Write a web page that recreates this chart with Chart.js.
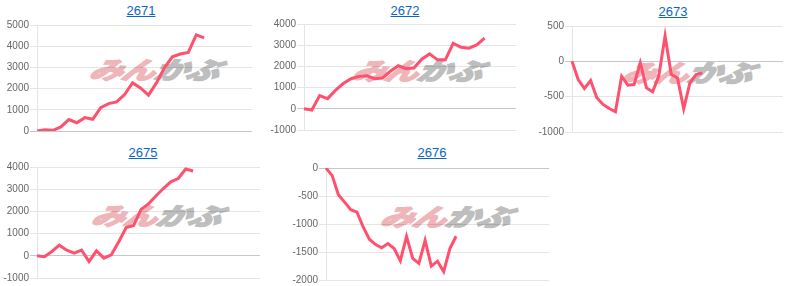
<!DOCTYPE html>
<html>
<head>
<meta charset="utf-8">
<script src="https://cdn.jsdelivr.net/npm/chart.js@4/dist/chart.umd.min.js"></script>
<style>
  html, body { margin: 0; padding: 0; background: #fff; }
  body { width: 800px; height: 286px; position: relative; overflow: hidden; font-family: "Liberation Sans", Arial, sans-serif; }
  .box { position: absolute; }
  .title { position: absolute; width: 100px; text-align: center; font-size: 13px; line-height: 15px; }
  .title a { color: #0b66c3; text-decoration: underline; }
  .wm { position: absolute; width: 160px; height: 30px; line-height: 30px; text-align: center; white-space: nowrap;
        font-family: "Noto Sans CJK JP", sans-serif; font-weight: 900; font-size: 24px; font-style: italic;
        transform: skewX(-16deg) scaleX(1.4); transform-origin: center center; letter-spacing: -1px; }
  .wm .p { color: #efb6ba; -webkit-text-stroke: 1.2px #efb6ba; }
  .wm .g { color: #bebebe; -webkit-text-stroke: 1.2px #bebebe; }
</style>
</head>
<body>
<script>
// ---- data ----
const categories = ['1','2','3','4','5','6','7','8','9','10','11','12','13','14','15','16','17','18','19','20',
  '21','22','23','24','25','26','27','28','29','30','31','32','33','34','35','36','37'];
const codes = ['2671', '2672', '2673', '2675', '2676'];
const categoryCounts = [28, 28, 35, 31, 37];

const values2671 = [0, 60, 30, 190, 540, 390, 630, 550, 1100, 1290, 1370, 1720, 2270, 2030, 1690, 2270, 2980, 3500, 3630, 3710, 4530, 4390];
const values2672 = [0, -60, 620, 480, 870, 1190, 1420, 1530, 1560, 1420, 1450, 1770, 2030, 1890, 1920, 2340, 2590, 2310, 2310, 3090, 2900, 2860, 3010, 3330];
const values2673 = [0, -258, -385, -272, -516, -610, -667, -714, -211, -338, -329, -20, -376, -432, -202, 360, -188, -235, -671, -305, -188, -164];
const values2675 = [0, -45, 195, 480, 255, 120, 255, -255, 225, -105, 45, 630, 1270, 1370, 2090, 2340, 2690, 3030, 3330, 3480, 3910, 3820];
const values2676 = [0, -136, -479, -609, -746, -787, -1053, -1272, -1367, -1426, -1349, -1438, -1657, -1219, -1615, -1704, -1290, -1751, -1663, -1852, -1438, -1219];

const ticks2671 = [0, 1000, 2000, 3000, 4000, 5000];
const ticks2672 = [-1000, 0, 1000, 2000, 3000, 4000];
const ticks2673 = [-1000, -500, 0, 500];
const ticks2675 = [-1000, 0, 1000, 2000, 3000, 4000];
const ticks2676 = [-2000, -1500, -1000, -500, 0];

const watermarkPink = 'みん';
const watermarkGray = 'かぶ';

// ---- layout (positions / styles only) ----
const allValues = [values2671, values2672, values2673, values2675, values2676];
const allTicks = [ticks2671, ticks2672, ticks2673, ticks2675, ticks2676];
const layout = [
  { l: 37,  r: 252, t: 25,  b: 131, tx: 141, ty: 10.5, wx: 155, wy: 69 },
  { l: 304, r: 516, t: 24,  b: 130, tx: 405, ty: 10.5, wx: 418, wy: 70 },
  { l: 572, r: 783, t: 26,  b: 132, tx: 673, ty: 11,   wx: 688, wy: 72 },
  { l: 37,  r: 260, t: 167, b: 278, tx: 143, ty: 152,  wx: 157, wy: 215 },
  { l: 326, r: 549, t: 168, b: 280, tx: 432, ty: 152,  wx: 446, wy: 216 }
];
const AXW = 40, PAD = 10;
const LINE = 'rgb(255, 80, 110)';

layout.forEach((L, i) => {
  const wm = document.createElement('div');
  wm.className = 'wm';
  wm.style.left = (L.wx - 80) + 'px';
  wm.style.top = (L.wy - 15) + 'px';
  wm.innerHTML = '<span class="p">' + watermarkPink + '</span><span class="g">' + watermarkGray + '</span>';
  document.body.appendChild(wm);

  const t = document.createElement('div');
  t.className = 'title';
  t.style.left = (L.tx - 50) + 'px';
  t.style.top = (L.ty - 7.5) + 'px';
  t.innerHTML = '<a href="#">' + codes[i] + '</a>';
  document.body.appendChild(t);

  const box = document.createElement('div');
  box.className = 'box';
  const left = L.l - AXW;
  box.style.left = left + 'px';
  box.style.top = (L.t - PAD) + 'px';
  box.style.width = (L.r - left + PAD) + 'px';
  box.style.height = (L.b - L.t + 2 * PAD) + 'px';
  const cv = document.createElement('canvas');
  box.appendChild(cv);
  document.body.appendChild(box);

  const tk = allTicks[i];
  new Chart(cv, {
    type: 'line',
    data: {
      labels: categories.slice(0, categoryCounts[i]),
      datasets: [{
        data: allValues[i],
        borderColor: LINE,
        backgroundColor: LINE,
        borderWidth: 3,
        pointRadius: 0,
        pointHoverRadius: 0,
        tension: 0,
        fill: false
      }]
    },
    options: {
      responsive: true,
      maintainAspectRatio: false,
      animation: false,
      devicePixelRatio: 1,
      layout: { padding: { left: 0, right: PAD, top: PAD, bottom: PAD } },
      plugins: { legend: { display: false }, tooltip: { enabled: false }, title: { display: false } },
      scales: {
        x: { display: false },
        y: {
          min: tk[0],
          max: tk[tk.length - 1],
          afterFit: (s) => { s.width = AXW; },
          afterBuildTicks: (s) => { s.ticks = tk.map(v => ({ value: v })); },
          border: { display: true, color: 'rgba(0,0,0,0.1)', width: 1 },
          grid: {
            tickLength: 7,
            color: (ctx) => (ctx.tick && ctx.tick.value === 0) ? 'rgba(0,0,0,0.22)' : 'rgba(0,0,0,0.1)',
            lineWidth: 1
          },
          ticks: {
            padding: 1,
            color: '#666',
            callback: (v) => String(v),
            font: { family: '"Liberation Sans", Arial, sans-serif', size: 10 }
          }
        }
      }
    }
  });
});
</script>
</body>
</html>
